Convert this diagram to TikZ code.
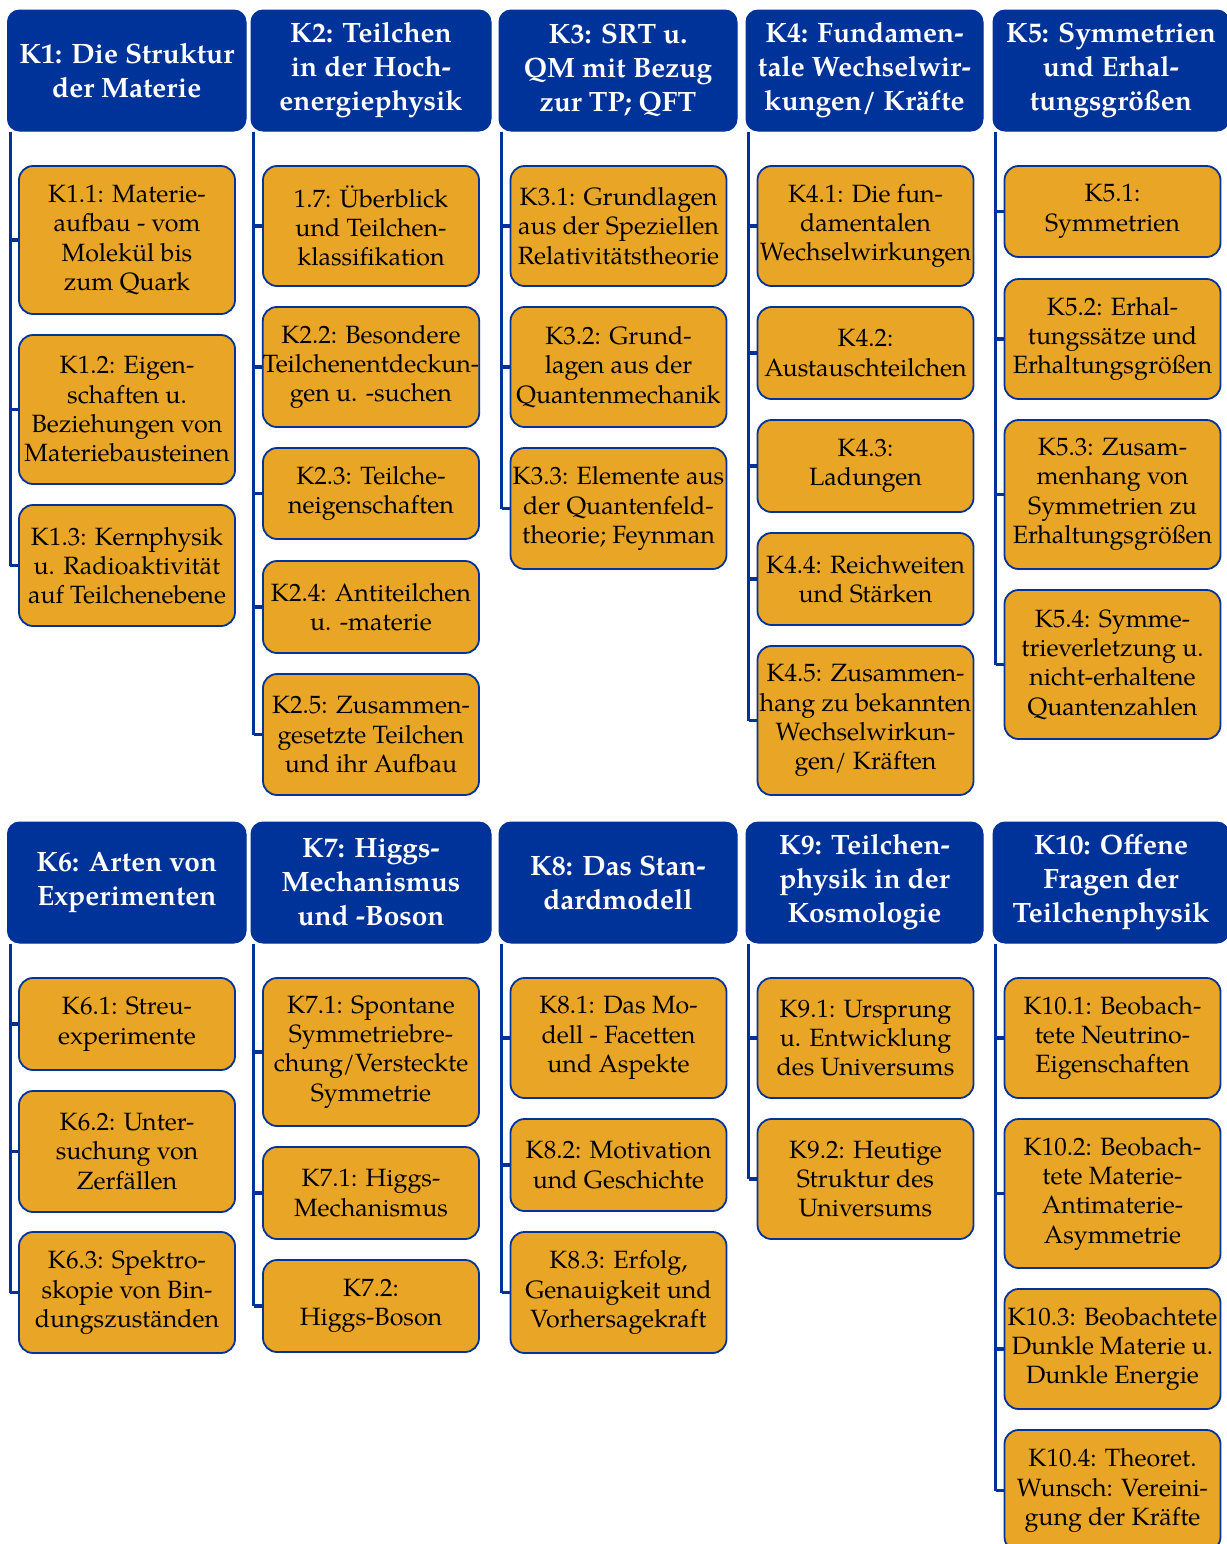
\documentclass[tikz,border=0pt]{standalone}
\usepackage{fontspec}
\setmainfont{TeX Gyre Pagella}
\definecolor{hblue}{RGB}{0,51,153}
\definecolor{corange}{RGB}{233,165,38}
\tikzset{
  head/.style={draw=hblue, fill=hblue, rounded corners=6pt, text=white, align=center,
    font=\fontsize{14}{17}\selectfont\bfseries, inner xsep=0pt, line width=0.5pt},
  cbox/.style={draw=hblue, fill=corange, rounded corners=7pt, text=black, align=center,
    minimum width=108pt, font=\fontsize{12.5}{14.65}\selectfont, inner xsep=0pt, line width=0.9pt},
  conn/.style={draw=hblue, line width=1.6pt}
}
% header: name, xleft, xright, ytop, ybottom, text
\newcommand\hd[6]{%
  \node[head, minimum width={(#3-#2)*0.5pt}, minimum height={(#5-#4)*0.5pt}] (#1) at ({(#2+#3)/2},{(#4+#5)/2}) {#6};
  \coordinate (#1top) at ([xshift=1.6pt]#1.south west);
}
% child: name, xcenter, ytop, ybottom, header name, text
\newcommand\cb[6]{%
  \node[cbox, minimum height={(#4-#3)*0.5pt}] (#1) at (#2,{(#3+#4)/2}) {#6};
  \draw[conn] (#5top |- #1.west) -- (#1.west);
}
\begin{document}
\begin{tikzpicture}[x=0.5pt,y=-0.5pt]
\useasboundingbox (0,0) rectangle (1227,1544);
\clip (0,0) rectangle (1227,1544);
% ---------- top row ----------
\hd{K1}{7.5}{246}{10}{131}{K1: Die Struktur\\der Materie}
\hd{K2}{251}{491}{10}{131}{K2: Teilchen\\in der Hoch-\\energiephysik}
\hd{K3}{499}{737}{10}{131}{K3: SRT u.\\QM mit Bezug\\zur TP; QFT}
\hd{K4}{746}{983}{10}{131}{K4: Fundamen-\\tale Wechselwir-\\kungen/ Kräfte}
\hd{K5}{993}{1229}{10}{131}{K5: Symmetrien\\und Erhal-\\tungsgrößen}

\cb{K11}{127}{166}{314}{K1}{K1.1: Materie-\\aufbau - vom\\Molekül bis\\zum Quark}
\cb{K12}{127}{335}{484}{K1}{K1.2: Eigen-\\schaften u.\\Beziehungen von\\Materiebausteinen}
\cb{K13}{127}{505}{626}{K1}{K1.3: Kernphysik\\u. Radioaktivität\\auf Teilchenebene}
\draw[conn] (K1top) -- (K1top |- K13.west);

\cb{K21}{371}{166}{286}{K2}{1.7: Überblick\\und Teilchen-\\klassifikation}
\cb{K22}{371}{307}{427}{K2}{K2.2: Besondere\\Teilchenentdeckun-\\gen u. -suchen}
\cb{K23}{371}{448}{539}{K2}{K2.3: Teilche-\\neigenschaften}
\cb{K24}{371}{561}{653}{K2}{K2.4: Antiteilchen\\u. -materie}
\cb{K25}{371}{674}{795}{K2}{K2.5: Zusammen-\\gesetzte Teilchen\\und ihr Aufbau}
\draw[conn] (K2top) -- (K2top |- K25.west);

\cb{K31}{618.5}{166}{286}{K3}{K3.1: Grundlagen\\aus der Speziellen\\Relativitätstheorie}
\cb{K32}{618.5}{307}{427}{K3}{K3.2: Grund-\\lagen aus der\\Quantenmechanik}
\cb{K33}{618.5}{448}{569}{K3}{K3.3: Elemente aus\\der Quantenfeld-\\theorie; Feynman}
\draw[conn] (K3top) -- (K3top |- K33.west);

\cb{K41}{865.5}{166}{286}{K4}{K4.1: Die fun-\\damentalen\\Wechselwirkungen}
\cb{K42}{865.5}{307}{399}{K4}{K4.2:\\Austauschteilchen}
\cb{K43}{865.5}{420}{512}{K4}{K4.3:\\Ladungen}
\cb{K44}{865.5}{533}{625}{K4}{K4.4: Reichweiten\\und Stärken}
\cb{K45}{865.5}{646}{795}{K4}{K4.5: Zusammen-\\hang zu bekannten\\Wechselwirkun-\\gen/ Kräften}
\draw[conn] (K4top) -- (K4top |- K45.west);

\cb{K51}{1112.5}{166}{257}{K5}{K5.1:\\Symmetrien}
\cb{K52}{1112.5}{279}{399}{K5}{K5.2: Erhal-\\tungssätze und\\Erhaltungsgrößen}
\cb{K53}{1112.5}{420}{569}{K5}{K5.3: Zusam-\\menhang von\\Symmetrien zu\\Erhaltungsgrößen}
\cb{K54}{1112.5}{590}{739}{K5}{K5.4: Symme-\\trieverletzung u.\\nicht-erhaltene\\Quantenzahlen}
\draw[conn] (K5top) -- (K5top |- K54.west);

% ---------- bottom row ----------
\hd{K6}{7.5}{246}{822}{943}{K6: Arten von\\Experimenten}
\hd{K7}{251}{491}{822}{943}{K7: Higgs-\\Mechanismus\\und -Boson}
\hd{K8}{499}{737}{822}{943}{K8: Das Stan-\\dardmodell}
\hd{K9}{746}{983}{822}{943}{K9: Teilchen-\\physik in der\\Kosmologie}
\hd{K10}{993}{1229}{822}{943}{K10: Offene\\Fragen der\\Teilchenphysik}

\cb{K61}{127}{978}{1070}{K6}{K6.1: Streu-\\experimente}
\cb{K62}{127}{1091}{1212}{K6}{K6.2: Unter-\\suchung von\\Zerfällen}
\cb{K63}{127}{1232}{1353}{K6}{K6.3: Spektro-\\skopie von Bin-\\dungszuständen}
\draw[conn] (K6top) -- (K6top |- K63.west);

\cb{K71}{371}{978}{1126}{K7}{K7.1: Spontane\\Symmetriebre-\\chung/Versteckte\\Symmetrie}
\cb{K72}{371}{1147}{1239}{K7}{K7.1: Higgs-\\Mechanismus}
\cb{K73}{371}{1260}{1352}{K7}{K7.2:\\Higgs-Boson}
\draw[conn] (K7top) -- (K7top |- K73.west);

\cb{K81}{618.5}{978}{1098}{K8}{K8.1: Das Mo-\\dell - Facetten\\und Aspekte}
\cb{K82}{618.5}{1119}{1211}{K8}{K8.2: Motivation\\und Geschichte}
\cb{K83}{618.5}{1232}{1353}{K8}{K8.3: Erfolg,\\Genauigkeit und\\Vorhersagekraft}
\draw[conn] (K8top) -- (K8top |- K83.west);

\cb{K91}{865.5}{978}{1098}{K9}{K9.1: Ursprung\\u. Entwicklung\\des Universums}
\cb{K92}{865.5}{1119}{1239}{K9}{K9.2: Heutige\\Struktur des\\Universums}
\draw[conn] (K9top) -- (K9top |- K92.west);

\cb{K101}{1112.5}{978}{1098}{K10}{K10.1: Beobach-\\tete Neutrino-\\Eigenschaften}
\cb{K102}{1112.5}{1119}{1268}{K10}{K10.2: Beobach-\\tete Materie-\\Antimaterie-\\Asymmetrie}
\cb{K103}{1112.5}{1289}{1409}{K10}{K10.3: Beobachtete\\Dunkle Materie u.\\Dunkle Energie}
\cb{K104}{1112.5}{1430}{1551}{K10}{K10.4: Theoret.\\Wunsch: Vereini-\\gung der Kräfte}
\draw[conn] (K10top) -- (K10top |- K104.west);
\end{tikzpicture}
\end{document}
